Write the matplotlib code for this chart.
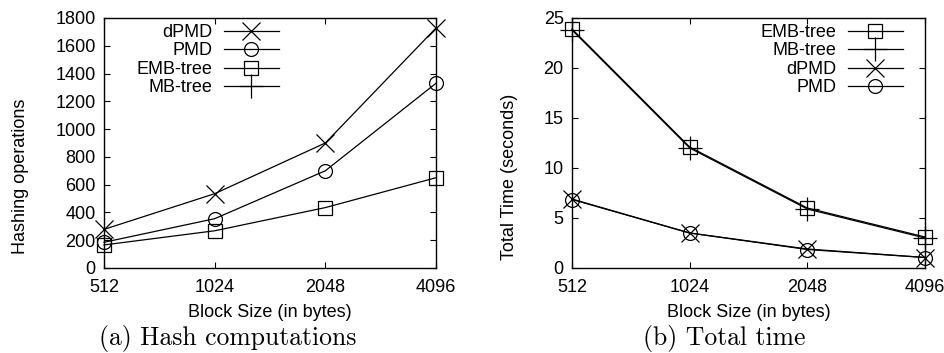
"""
Hash computations and total time vs block size (gnuplot-style two panels).
"""

import matplotlib
matplotlib.use("Agg")
import matplotlib.pyplot as plt


block_sizes = [512, 1024, 2048, 4096]

# (a) hashing operations
hash_dpmd = [278, 535, 900, 1728]
hash_pmd = [185, 355, 700, 1330]
hash_emb = [166, 268, 435, 650]
# MB-tree is in the key but no point of it shows inside the plotted range
hash_mb = [float("nan")] * 4

# (b) total time in seconds
time_emb = [23.9, 12.1, 6.0, 3.1]
time_mb = [23.8, 12.0, 5.9, 3.0]
time_dpmd = [6.9, 3.5, 1.9, 1.05]
time_pmd = [6.85, 3.5, 1.85, 1.05]

plt.rcParams["font.family"] = ["Liberation Sans", "DejaVu Sans"]
plt.rcParams["font.size"] = 13

STYLES = {
    "dPMD": dict(marker="x", markersize=13, mew=0.9),
    "PMD": dict(marker="o", markersize=10, mfc="none", mew=0.9),
    "EMB-tree": dict(marker="s", markersize=10, mfc="none", mew=0.9),
    "MB-tree": dict(marker="+", markersize=17, mew=0.9),
}


def style_axes(ax, yticks, ylim):
    ax.set_xscale("log", base=2)
    ax.set_xlim(512, 4096)
    ax.set_xticks(block_sizes)
    ax.set_xticklabels([str(b) for b in block_sizes])
    ax.minorticks_off()
    ax.set_ylim(*ylim)
    ax.set_yticks(yticks)
    ax.tick_params(direction="in", top=True, right=True, length=4, width=0.8)
    ax.tick_params(axis="x", pad=8)
    ax.tick_params(axis="y", pad=6)
    for s in ax.spines.values():
        s.set_linewidth(1.0)
    ax.set_xlabel("Block Size (in bytes)", labelpad=6)


def add_key(ax, right_px):
    ax.legend(loc="upper right", bbox_to_anchor=(right_px / 945, 1 - 24 / 353),
              bbox_transform=fig.transFigure, frameon=False, markerfirst=False,
              handlelength=3.05, handletextpad=0.65, labelspacing=0.08,
              borderpad=0, borderaxespad=0)


fig = plt.figure(figsize=(9.45, 3.53), dpi=100)
ax1 = fig.add_axes([104 / 945, 1 - 268 / 353, 332 / 945, 250 / 353])
ax2 = fig.add_axes([572 / 945, 1 - 268 / 353, 353 / 945, 250 / 353])

for name, vals in [("dPMD", hash_dpmd), ("PMD", hash_pmd),
                   ("EMB-tree", hash_emb), ("MB-tree", hash_mb)]:
    ax1.plot(block_sizes, vals, color="black", lw=0.9, label=name,
             clip_on=False, **STYLES[name])
style_axes(ax1, range(0, 1801, 200), (0, 1800))
ax1.set_ylabel("Hashing operations")
ax1.yaxis.set_label_coords(29 / 945, 0.5, transform=fig.transFigure)
add_key(ax1, 279)
fig.text(228 / 945, 1 - 338 / 353, "(a) Hash computations",
         family="cmr10", fontsize=18.5, ha="center", va="center")

for name, vals in [("EMB-tree", time_emb), ("MB-tree", time_mb),
                   ("dPMD", time_dpmd), ("PMD", time_pmd)]:
    ax2.plot(block_sizes, vals, color="black", lw=0.9, label=name,
             clip_on=False, **STYLES[name])
style_axes(ax2, range(0, 26, 5), (0, 25))
ax2.set_ylabel("Total Time (seconds)")
ax2.yaxis.set_label_coords(518 / 945, 0.5, transform=fig.transFigure)
add_key(ax2, 903)
fig.text(724 / 945, 1 - 338 / 353, "(b) Total time",
         family="cmr10", fontsize=18.5, ha="center", va="center")

fig.savefig("out.png", dpi=100)
